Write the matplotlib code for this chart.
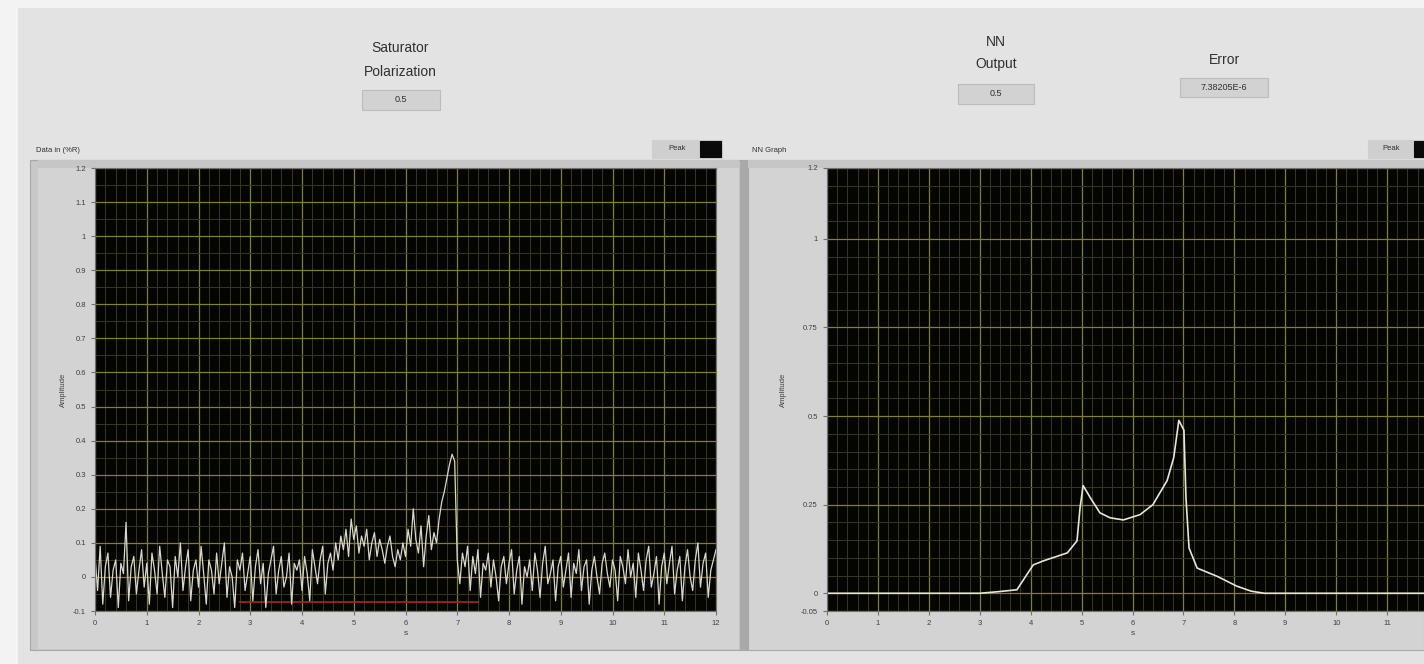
import numpy as np
import matplotlib
matplotlib.use("Agg")
import matplotlib.pyplot as plt
from matplotlib.patches import Rectangle
from matplotlib.ticker import MultipleLocator

plt.rcParams['font.family'] = ['Liberation Sans', 'DejaVu Sans']

# valores
x_ticks = list(range(0, 13))
x_labels = [str(v) for v in x_ticks]

# senal de entrada (espectro con ruido), paso 0.05 en x
spec_y = [
    0.06, -0.04, 0.09, -0.08, 0.03, 0.07, -0.06, 0.02, 0.05, -0.09, 0.04, 0.01, 0.16, -0.07, 0.03, 0.06, -0.05, 0.02, 0.08, -0.03,
    0.04, -0.08, 0.07, 0.02, -0.05, 0.09, 0.01, -0.06, 0.05, 0.03, -0.09, 0.06, 0.0, 0.1, -0.04, 0.03, 0.08, -0.07, 0.02, 0.05,
    -0.03, 0.09, 0.01, -0.08, 0.05, 0.02, -0.05, 0.07, -0.02, 0.04, 0.1, -0.06, 0.03, 0.0, -0.09, 0.05, 0.02, 0.07, -0.04, 0.01,
    0.06, -0.07, 0.03, 0.08, -0.02, 0.04, -0.09, 0.01, 0.05, 0.09, -0.05, 0.02, 0.06, -0.03, 0.0, 0.07, -0.08, 0.04, 0.02, 0.05,
    -0.04, 0.06, 0.01, -0.07, 0.08, 0.03, -0.02, 0.05, 0.09, -0.05, 0.04, 0.07, 0.02, 0.1, 0.05, 0.12, 0.08, 0.14, 0.06, 0.17,
    0.11, 0.15, 0.07, 0.12, 0.09, 0.14, 0.05, 0.1, 0.13, 0.06, 0.11, 0.08, 0.04, 0.09, 0.12, 0.06, 0.03, 0.08, 0.05, 0.1,
    0.06, 0.14, 0.09, 0.2, 0.11, 0.07, 0.15, 0.03, 0.12, 0.18, 0.08, 0.13, 0.1, 0.17, 0.22, 0.25, 0.29, 0.33, 0.36, 0.34,
    0.05, -0.02, 0.07, 0.03, 0.09, -0.04, 0.06, 0.01, 0.08, -0.06, 0.04, 0.02, 0.07, -0.03, 0.05, 0.0, -0.07, 0.03, 0.06, -0.02,
    0.04, 0.08, -0.05, 0.02, 0.06, -0.08, 0.03, 0.0, 0.05, -0.04, 0.07, 0.02, -0.06, 0.04, 0.09, -0.02, 0.01, 0.05, -0.07, 0.03,
    0.06, -0.03, 0.02, 0.07, -0.06, 0.04, 0.01, 0.08, -0.04, 0.03, 0.05, -0.08, 0.02, 0.06, 0.0, -0.05, 0.04, 0.07, 0.01, -0.03,
    0.05, 0.02, -0.07, 0.06, 0.03, -0.02, 0.08, 0.0, 0.04, -0.06, 0.07, 0.02, -0.04, 0.05, 0.09, -0.03, 0.01, 0.06, -0.08, 0.03,
    0.07, -0.02, 0.04, 0.09, -0.05, 0.02, 0.06, -0.07, 0.03, 0.08, 0.0, -0.04, 0.05, 0.1, -0.03, 0.04, 0.07, -0.06, 0.02, 0.05, 0.08,
]
spec_x = [i * 0.05 for i in range(len(spec_y))]

# linea roja (pico)
peak_x = [2.8, 7.4]
peak_y = [-0.075, -0.075]

# salida de la red neuronal
nn_x = [0, 3.0, 3.4, 3.73, 4.05, 4.24, 4.72, 4.91, 4.97, 5.03, 5.17, 5.36, 5.56, 5.82, 6.15, 6.4,
        6.68, 6.81, 6.91, 7.01, 7.05, 7.11, 7.27, 7.66, 8.05, 8.33, 8.59, 12]
nn_y = [0, 0, 0.005, 0.01, 0.08, 0.091, 0.114, 0.148, 0.241, 0.304, 0.27, 0.227, 0.213, 0.207, 0.222, 0.25,
        0.318, 0.383, 0.488, 0.46, 0.27, 0.128, 0.071, 0.048, 0.02, 0.006, 0, 0]

W, H = 1424, 664
fig = plt.figure(figsize=(W / 100, H / 100), dpi=100, facecolor='#f3f3f3')


def caja(x0, y0, x1, y1, color, edge=None, lw=0.8):
    r = Rectangle((x0 / W, 1 - y1 / H), (x1 - x0) / W, (y1 - y0) / H, transform=fig.transFigure,
                  facecolor=color, edgecolor=edge if edge else color, linewidth=lw, zorder=0)
    fig.add_artist(r)


def texto(x, y, s, size=7, **kw):
    fig.text(x / W, 1 - y / H, s, fontsize=size, color='#303030', **kw)


# fondo del panel
caja(18, 8, W, H, '#e3e3e3')
# marcos de las graficas
caja(30, 160, 740, 650, '#c8c8c8', '#a8a8a8')
caja(38, 160, 738, 648, '#d3d3d3')
caja(740, 160, 748, 650, '#a9a9a9')
caja(748, 160, W, 650, '#d3d3d3', '#a8a8a8')
caja(38, 160, 738, 167, '#c6c6c6')
caja(748, 160, W, 167, '#c6c6c6')

# indicadores de arriba
texto(400, 48, 'Saturator', 10, ha='center', va='center')
texto(400, 72, 'Polarization', 10, ha='center', va='center')
caja(362, 90, 440, 110, '#d2d2d2', '#bcbcbc')
texto(401, 100, '0.5', 6.5, ha='center', va='center')

texto(996, 42, 'NN', 10, ha='center', va='center')
texto(996, 64, 'Output', 10, ha='center', va='center')
caja(958, 84, 1034, 104, '#d2d2d2', '#bcbcbc')
texto(996, 94, '0.5', 6.5, ha='center', va='center')

texto(1224, 60, 'Error', 10, ha='center', va='center')
caja(1180, 78, 1268, 97, '#d2d2d2', '#bcbcbc')
texto(1224, 88, '7.38205E-6', 6.5, ha='center', va='center')

# titulos de las graficas y leyendas
texto(36, 150, 'Data in (%R)', 5.5, ha='left', va='center')
texto(752, 150, 'NN Graph', 5.5, ha='left', va='center')
caja(652, 140, 722, 158, '#cfcfcf')
texto(668, 149, 'Peak', 5.5, ha='left', va='center')
caja(700, 141, 721, 157, '#0a0a0a')
caja(1368, 140, W, 158, '#cfcfcf')
texto(1382, 149, 'Peak', 5.5, ha='left', va='center')
caja(1414, 141, W, 157, '#0a0a0a')


def estilo(ax, ymin, ymax, ymaj, ymin_step, ylabels, xlabels, pad):
    ax.set_facecolor('#050500')
    ax.set_xlim(0, 12)
    ax.set_ylim(ymin, ymax)
    ax.set_xticks(x_ticks)
    ax.set_xticklabels(xlabels)
    ax.xaxis.set_minor_locator(MultipleLocator(0.2))
    ax.set_yticks(ymaj)
    ax.set_yticklabels(ylabels)
    ax.yaxis.set_minor_locator(MultipleLocator(ymin_step))
    ax.grid(which='major', color='#7e7e34', linewidth=0.9)
    ax.grid(which='minor', color='#37371a', linewidth=0.7)
    ax.set_axisbelow(True)
    ax.tick_params(which='both', labelsize=5.5, labelcolor='#404040', color='#707070', length=3)
    ax.tick_params(which='minor', length=0)
    for s in ax.spines.values():
        s.set_color('#707070')
        s.set_linewidth(0.8)
    ax.set_xlabel('s', fontsize=6, color='#404040', labelpad=2)
    ax.set_ylabel('Amplitude', fontsize=5.5, color='#404040', labelpad=pad)


ax1 = fig.add_axes([95 / W, 1 - 611 / H, 621 / W, 443 / H])
y1 = [-0.1, 0, 0.1, 0.2, 0.3, 0.4, 0.5, 0.6, 0.7, 0.8, 0.9, 1, 1.1, 1.2]
estilo(ax1, -0.1, 1.2, y1, 0.05,
       ['-0.1', '0', '0.1', '0.2', '0.3', '0.4', '0.5', '0.6', '0.7', '0.8', '0.9', '1', '1.1', '1.2'],
       x_labels, 4)
ax1.plot(peak_x, peak_y, color='#b02020', linewidth=1.2)
ax1.plot(spec_x, spec_y, color='#d8d8cc', linewidth=0.9)

ax2 = fig.add_axes([827 / W, 1 - 611 / H, 611 / W, 443 / H])
y2 = [-0.05, 0, 0.25, 0.5, 0.75, 1, 1.2]
estilo(ax2, -0.05, 1.2, y2, 0.05, ['-0.05', '0', '0.25', '0.5', '0.75', '1', '1.2'],
       x_labels[:-1] + [''], 10)
ax2.plot(nn_x, nn_y, color='#e6e6d6', linewidth=1.2)

fig.savefig('out.png', dpi=100, facecolor=fig.get_facecolor())
